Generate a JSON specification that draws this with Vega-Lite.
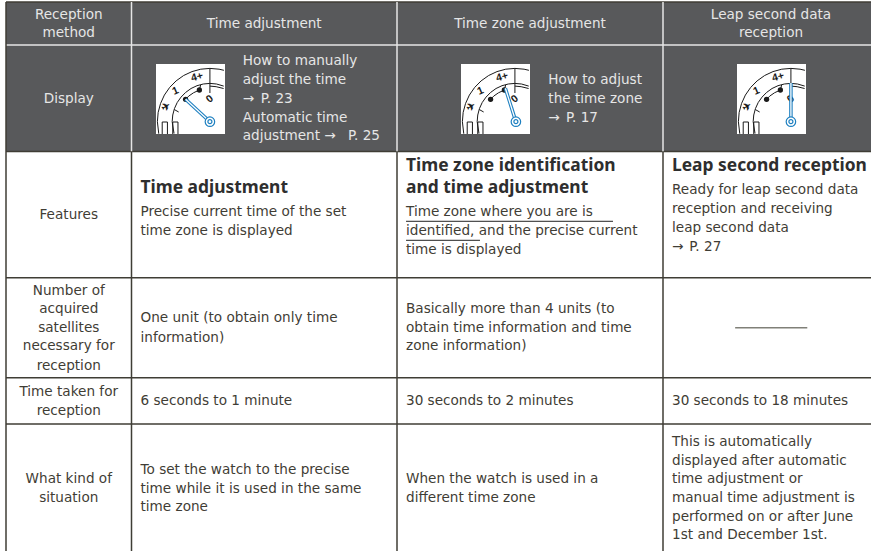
{
"$schema":"https://vega.github.io/schema/vega-lite/v6.json",
"width":871,"height":551,"padding":0,"autosize":{"type":"none"},"background":"white",
"config":{"view":{"stroke":null}},
"resolve":{"scale":{"x":"independent","y":"independent"}},
"datasets":{
"cells":[{"c":0,"c2":4,"r":0.106,"r2":8.059}],
"hr":[{"r":2.394,"c":0,"c2":4,"k":"light"},{"r":0.106,"c":0,"c2":4,"k":"dark"},{"r":8.059,"c":0,"c2":4,"k":"dark"},{"r":14.771,"c":0,"c2":4,"k":"dark"},{"r":20.09,"c":0,"c2":4,"k":"dark"},{"r":22.553,"c":0,"c2":4,"k":"dark"}],
"vr":[{"c":1,"r":0.106,"r2":8.059,"k":"light"},{"c":2,"r":0.106,"r2":8.059,"k":"light"},{"c":3,"r":0.106,"r2":8.059,"k":"light"},{"c":0,"r":0.106,"r2":29.415,"k":"dark"},{"c":1,"r":8.059,"r2":29.415,"k":"dark"},{"c":2,"r":8.059,"r2":29.415,"k":"dark"},{"c":3,"r":8.059,"r2":29.415,"k":"dark"}],
"under":[{"r":11.771,"c":2.034,"c2":2.812},{"r":12.782,"c":2.034,"c2":2.312}],
"dash":[{"r":17.431,"c":3.334,"c2":3.668}],
"icons":[{"x":0,"x2":70,"y":0,"y2":70},{"x":100,"x2":170,"y":0,"y2":70},{"x":200,"x2":270,"y":0,"y2":70}],
"gauge":[
{"g":1,"p":"outer","x":68.9,"y":6.3},{"g":1,"p":"outer","x":64,"y":5.2},{"g":1,"p":"outer","x":54.7,"y":4.4},{"g":1,"p":"outer","x":45.4,"y":5.2},{"g":1,"p":"outer","x":36.5,"y":7.6},{"g":1,"p":"outer","x":28.05,"y":11.5},{"g":1,"p":"outer","x":20.4,"y":16.9},{"g":1,"p":"outer","x":13.9,"y":23.4},{"g":1,"p":"outer","x":8.5,"y":31.05},{"g":1,"p":"outer","x":4.6,"y":39.5},{"g":1,"p":"outer","x":2.2,"y":48.4},{"g":1,"p":"outer","x":1.4,"y":57.7},{"g":1,"p":"outer","x":2.8,"y":69.7},
{"g":1,"p":"inner","x":68.7,"y":22.1},{"g":1,"p":"inner","x":61.4,"y":20},{"g":1,"p":"inner","x":54.7,"y":19.4},{"g":1,"p":"inner","x":48,"y":20},{"g":1,"p":"inner","x":41.6,"y":21.7},{"g":1,"p":"inner","x":35.55,"y":24.5},{"g":1,"p":"inner","x":30.1,"y":28.4},{"g":1,"p":"inner","x":25.4,"y":33.1},{"g":1,"p":"inner","x":21.5,"y":38.55},{"g":1,"p":"inner","x":18.7,"y":44.6},{"g":1,"p":"inner","x":17,"y":51},{"g":1,"p":"inner","x":16.4,"y":57.7},{"g":1,"p":"inner","x":18.3,"y":69.5},
{"g":1,"p":"marker","x":43.8,"y":26.1},{"g":1,"p":"marker","x":38,"y":28.8},{"g":1,"p":"marker","x":33.2,"y":32.1},{"g":1,"p":"marker","x":29.9,"y":35.4},
{"g":1,"p":"tick","x":54.7,"y":4.4},{"g":1,"p":"tick","x":54.7,"y":29},
{"g":1,"p":"minor","x":18.5,"y":45.5},{"g":1,"p":"minor","x":23,"y":48},
{"g":1,"p":"dottick","x":44,"y":26},{"g":1,"p":"dottick","x":45.3,"y":21},
{"g":1,"p":"bar1","x":6.3,"y":70},{"g":1,"p":"bar1","x":6.3,"y":58},{"g":1,"p":"bar1","x":11.6,"y":58},{"g":1,"p":"bar1","x":11.6,"y":70},
{"g":1,"p":"bar2","x":17,"y":70},{"g":1,"p":"bar2","x":17,"y":58},{"g":1,"p":"bar2","x":22.3,"y":58},{"g":1,"p":"bar2","x":22.3,"y":70},
{"g":1,"p":"second","x":54.7,"y":22.1},{"g":1,"p":"second","x":61,"y":22.7},{"g":1,"p":"second","x":68.6,"y":24.5},
{"g":2,"p":"outer","x":168.9,"y":6.3},{"g":2,"p":"outer","x":164,"y":5.2},{"g":2,"p":"outer","x":154.7,"y":4.4},{"g":2,"p":"outer","x":145.4,"y":5.2},{"g":2,"p":"outer","x":136.5,"y":7.6},{"g":2,"p":"outer","x":128.05,"y":11.5},{"g":2,"p":"outer","x":120.4,"y":16.9},{"g":2,"p":"outer","x":113.9,"y":23.4},{"g":2,"p":"outer","x":108.5,"y":31.05},{"g":2,"p":"outer","x":104.6,"y":39.5},{"g":2,"p":"outer","x":102.2,"y":48.4},{"g":2,"p":"outer","x":101.4,"y":57.7},{"g":2,"p":"outer","x":102.8,"y":69.7},
{"g":2,"p":"inner","x":168.7,"y":22.1},{"g":2,"p":"inner","x":161.4,"y":20},{"g":2,"p":"inner","x":154.7,"y":19.4},{"g":2,"p":"inner","x":148,"y":20},{"g":2,"p":"inner","x":141.6,"y":21.7},{"g":2,"p":"inner","x":135.55,"y":24.5},{"g":2,"p":"inner","x":130.1,"y":28.4},{"g":2,"p":"inner","x":125.4,"y":33.1},{"g":2,"p":"inner","x":121.5,"y":38.55},{"g":2,"p":"inner","x":118.7,"y":44.6},{"g":2,"p":"inner","x":117,"y":51},{"g":2,"p":"inner","x":116.4,"y":57.7},{"g":2,"p":"inner","x":118.3,"y":69.5},
{"g":2,"p":"marker","x":143.8,"y":26.1},{"g":2,"p":"marker","x":138,"y":28.8},{"g":2,"p":"marker","x":133.2,"y":32.1},{"g":2,"p":"marker","x":129.9,"y":35.4},
{"g":2,"p":"tick","x":154.7,"y":4.4},{"g":2,"p":"tick","x":154.7,"y":29},
{"g":2,"p":"minor","x":118.5,"y":45.5},{"g":2,"p":"minor","x":123,"y":48},
{"g":2,"p":"dottick","x":144,"y":26},{"g":2,"p":"dottick","x":145.3,"y":21},
{"g":2,"p":"bar1","x":106.3,"y":70},{"g":2,"p":"bar1","x":106.3,"y":58},{"g":2,"p":"bar1","x":111.6,"y":58},{"g":2,"p":"bar1","x":111.6,"y":70},
{"g":2,"p":"bar2","x":117,"y":70},{"g":2,"p":"bar2","x":117,"y":58},{"g":2,"p":"bar2","x":122.3,"y":58},{"g":2,"p":"bar2","x":122.3,"y":70},
{"g":2,"p":"second","x":154.7,"y":22.1},{"g":2,"p":"second","x":161,"y":22.7},{"g":2,"p":"second","x":168.6,"y":24.5},
{"g":3,"p":"outer","x":268.9,"y":6.3},{"g":3,"p":"outer","x":264,"y":5.2},{"g":3,"p":"outer","x":254.7,"y":4.4},{"g":3,"p":"outer","x":245.4,"y":5.2},{"g":3,"p":"outer","x":236.5,"y":7.6},{"g":3,"p":"outer","x":228.05,"y":11.5},{"g":3,"p":"outer","x":220.4,"y":16.9},{"g":3,"p":"outer","x":213.9,"y":23.4},{"g":3,"p":"outer","x":208.5,"y":31.05},{"g":3,"p":"outer","x":204.6,"y":39.5},{"g":3,"p":"outer","x":202.2,"y":48.4},{"g":3,"p":"outer","x":201.4,"y":57.7},{"g":3,"p":"outer","x":202.8,"y":69.7},
{"g":3,"p":"inner","x":268.7,"y":22.1},{"g":3,"p":"inner","x":261.4,"y":20},{"g":3,"p":"inner","x":254.7,"y":19.4},{"g":3,"p":"inner","x":248,"y":20},{"g":3,"p":"inner","x":241.6,"y":21.7},{"g":3,"p":"inner","x":235.55,"y":24.5},{"g":3,"p":"inner","x":230.1,"y":28.4},{"g":3,"p":"inner","x":225.4,"y":33.1},{"g":3,"p":"inner","x":221.5,"y":38.55},{"g":3,"p":"inner","x":218.7,"y":44.6},{"g":3,"p":"inner","x":217,"y":51},{"g":3,"p":"inner","x":216.4,"y":57.7},{"g":3,"p":"inner","x":218.3,"y":69.5},
{"g":3,"p":"marker","x":243.8,"y":26.1},{"g":3,"p":"marker","x":238,"y":28.8},{"g":3,"p":"marker","x":233.2,"y":32.1},{"g":3,"p":"marker","x":229.9,"y":35.4},
{"g":3,"p":"tick","x":254.7,"y":4.4},{"g":3,"p":"tick","x":254.7,"y":29},
{"g":3,"p":"minor","x":218.5,"y":45.5},{"g":3,"p":"minor","x":223,"y":48},
{"g":3,"p":"dottick","x":244,"y":26},{"g":3,"p":"dottick","x":245.3,"y":21},
{"g":3,"p":"bar1","x":206.3,"y":70},{"g":3,"p":"bar1","x":206.3,"y":58},{"g":3,"p":"bar1","x":211.6,"y":58},{"g":3,"p":"bar1","x":211.6,"y":70},
{"g":3,"p":"bar2","x":217,"y":70},{"g":3,"p":"bar2","x":217,"y":58},{"g":3,"p":"bar2","x":222.3,"y":58},{"g":3,"p":"bar2","x":222.3,"y":70},
{"g":3,"p":"second","x":254.7,"y":22.1},{"g":3,"p":"second","x":261,"y":22.7},{"g":3,"p":"second","x":268.6,"y":24.5}
],
"dots":[{"x":44,"y":26},{"x":30,"y":35.3},{"x":144,"y":26},{"x":130,"y":35.3},{"x":244,"y":26},{"x":230,"y":35.3}],
"glabels":[{"t":"4+","x":41.7,"y":13},{"t":"1","x":19.7,"y":27},{"t":"✈","x":10.7,"y":43},{"t":"0","x":54.7,"y":35},{"t":"4+","x":141.7,"y":13},{"t":"1","x":119.7,"y":27},{"t":"✈","x":110.7,"y":43},{"t":"0","x":154.7,"y":35},{"t":"4+","x":241.7,"y":13},{"t":"1","x":219.7,"y":27},{"t":"✈","x":210.7,"y":43},{"t":"0","x":254.7,"y":35}],
"needles":[
{"n":"a","x":54.7,"y":57.7},{"n":"a","x":30,"y":35.3},
{"n":"b","x":155.7,"y":57.7},{"n":"b","x":145,"y":24.3},
{"n":"c","x":254.7,"y":57.7},{"n":"c","x":254.7,"y":19}
],
"pivots":[{"x":54.7,"y":57.7},{"x":155.7,"y":57.7},{"x":254.7,"y":57.7}],
"center":[
{"t":"Reception","c":0.5,"r":0.8,"k":"head"},{"t":"method","c":0.5,"r":1.755,"k":"head"},
{"t":"Time adjustment","c":1.5,"r":1.277,"k":"head"},
{"t":"Time zone adjustment","c":2.5,"r":1.277,"k":"head"},
{"t":"Leap second data","c":3.5,"r":0.8,"k":"head"},{"t":"reception","c":3.5,"r":1.755,"k":"head"},
{"t":"Display","c":0.5,"r":5.266,"k":"head"},
{"t":"Features","c":0.5,"r":11.436,"k":"body"},
{"t":"Number of","c":0.5,"r":15.463,"k":"body"},{"t":"acquired","c":0.5,"r":16.436,"k":"body"},{"t":"satellites","c":0.5,"r":17.431,"k":"body"},{"t":"necessary for","c":0.5,"r":18.404,"k":"body"},{"t":"reception","c":0.5,"r":19.452,"k":"body"},
{"t":"Time taken for","c":0.5,"r":20.835,"k":"body"},{"t":"reception","c":0.5,"r":21.862,"k":"body"},
{"t":"What kind of","c":0.5,"r":25.479,"k":"body"},{"t":"situation","c":0.5,"r":26.473,"k":"body"}
],
"left":[
{"t":"How to manually","c":1.385,"r":3.245,"k":"head"},{"t":"adjust the time","c":1.385,"r":4.255,"k":"head"},{"t":"→","c":1.385,"r":5.266,"k":"head"},{"t":"P. 23","c":1.4527,"r":5.266,"k":"linkDark"},{"t":"Automatic time","c":1.385,"r":6.277,"k":"head"},{"t":"adjustment →","c":1.385,"r":7.26,"k":"head"},{"t":"P. 25","c":1.7815,"r":7.26,"k":"linkDark"},
{"t":"How to adjust","c":2.535,"r":4.255,"k":"head"},{"t":"the time zone","c":2.535,"r":5.266,"k":"head"},{"t":"→","c":2.535,"r":6.277,"k":"head"},{"t":"P. 17","c":2.6015,"r":6.277,"k":"linkDark"},
{"t":"Precise current time of the set","c":1,"r":11.26,"k":"body"},{"t":"time zone is displayed","c":1,"r":12.287,"k":"body"},
{"t":"Time zone where you are is","c":2,"r":11.26,"k":"body"},{"t":"identified, and the precise current","c":2,"r":12.287,"k":"body"},{"t":"time is displayed","c":2,"r":13.298,"k":"body"},
{"t":"Ready for leap second data","c":3,"r":10.106,"k":"body"},{"t":"reception and receiving","c":3,"r":11.117,"k":"body"},{"t":"leap second data","c":3,"r":12.144,"k":"body"},{"t":"→","c":3,"r":13.122,"k":"body"},{"t":"P. 27","c":3.08,"r":13.122,"k":"linkLight"},
{"t":"One unit (to obtain only time","c":1,"r":16.931,"k":"body"},{"t":"information)","c":1,"r":17.979,"k":"body"},
{"t":"Basically more than 4 units (to","c":2,"r":16.436,"k":"body"},{"t":"obtain time information and time","c":2,"r":17.431,"k":"body"},{"t":"zone information)","c":2,"r":18.404,"k":"body"},
{"t":"6 seconds to 1 minute","c":1,"r":21.314,"k":"body"},{"t":"30 seconds to 2 minutes","c":2,"r":21.314,"k":"body"},{"t":"30 seconds to 18 minutes","c":3,"r":21.314,"k":"body"},
{"t":"To set the watch to the precise","c":1,"r":25,"k":"body"},{"t":"time while it is used in the same","c":1,"r":26.011,"k":"body"},{"t":"time zone","c":1,"r":26.968,"k":"body"},
{"t":"When the watch is used in a","c":2,"r":25.479,"k":"body"},{"t":"different time zone","c":2,"r":26.489,"k":"body"},
{"t":"This is automatically","c":3,"r":23.495,"k":"body"},{"t":"displayed after automatic","c":3,"r":24.505,"k":"body"},{"t":"time adjustment or","c":3,"r":25.479,"k":"body"},{"t":"manual time adjustment is","c":3,"r":26.489,"k":"body"},{"t":"performed on or after June","c":3,"r":27.5,"k":"body"},{"t":"1st and December 1st.","c":3,"r":28.457,"k":"body"}
],
"bold":[
{"t":"Time adjustment","c":1,"r":10.016},
{"t":"Time zone identification","c":2,"r":8.814},{"t":"and time adjustment","c":2,"r":9.984},
{"t":"Leap second reception","c":3,"r":8.814}
]
},
"layer":[
{"layer":[
{"data":{"name":"cells"},"mark":{"type":"rect","color":"#58595b"},"encoding":{
"x":{"field":"c","type":"quantitative","axis":null,"scale":{"type":"linear","zero":false,"nice":false,"domain":[0,1,2,3,4],"range":[6,131.5,397,663,879]}},"x2":{"field":"c2"},
"y":{"field":"r","type":"quantitative","axis":null,"scale":{"type":"linear","zero":false,"nice":false,"domain":[0,29.3085],"range":[0,551]}},"y2":{"field":"r2"}}},
{"data":{"name":"hr"},"mark":{"type":"rule","strokeWidth":1.5},"encoding":{"x":{"field":"c","type":"quantitative"},"x2":{"field":"c2"},"y":{"field":"r","type":"quantitative"},"color":{"field":"k","type":"nominal","legend":null,"scale":{"domain":["light","dark"],"range":["#e6e6e6","#3f3d35"]}}}},
{"data":{"name":"vr"},"mark":{"type":"rule","strokeWidth":1.5},"encoding":{"x":{"field":"c","type":"quantitative"},"y":{"field":"r","type":"quantitative"},"y2":{"field":"r2"},"color":{"field":"k","type":"nominal","legend":null}}},
{"data":{"name":"under"},"mark":{"type":"rule","strokeWidth":1,"color":"#222222"},"encoding":{"x":{"field":"c","type":"quantitative"},"x2":{"field":"c2"},"y":{"field":"r","type":"quantitative"}}},
{"data":{"name":"dash"},"mark":{"type":"rule","strokeWidth":1.5,"color":"#808078"},"encoding":{"x":{"field":"c","type":"quantitative"},"x2":{"field":"c2"},"y":{"field":"r","type":"quantitative"}}},
{"data":{"name":"center"},"mark":{"type":"text","font":"DejaVu Sans","fontSize":13.6,"align":"center","baseline":"middle"},"encoding":{"x":{"field":"c","type":"quantitative"},"y":{"field":"r","type":"quantitative"},"text":{"field":"t"},"color":{"field":"k","type":"nominal","legend":null,"scale":{"domain":["head","body","linkDark","linkLight"],"range":["#e8e8e8","#3c3c3c","#2a8fca","#1a7fc4"]}}}},
{"data":{"name":"left"},"mark":{"type":"text","font":"DejaVu Sans","fontSize":13.6,"align":"left","baseline":"middle","dx":9},"encoding":{"x":{"field":"c","type":"quantitative"},"y":{"field":"r","type":"quantitative"},"text":{"field":"t"},"color":{"field":"k","type":"nominal","legend":null,"scale":{"domain":["head","body","linkDark","linkLight"],"range":["#e8e8e8","#3c3c3c","#2a8fca","#1a7fc4"]}}}},
{"data":{"name":"bold"},"mark":{"type":"text","font":"Noto Sans","fontSize":17.4,"fontWeight":"bold","color":"#2e2e2e","align":"left","baseline":"middle","dx":9},"encoding":{"x":{"field":"c","type":"quantitative"},"y":{"field":"r","type":"quantitative"},"text":{"field":"t"}}}
]},
{"layer":[
{"data":{"name":"icons"},"mark":{"type":"rect","color":"#ffffff"},"encoding":{
"x":{"field":"x","type":"quantitative","axis":null,"scale":{"type":"linear","zero":false,"nice":false,"domain":[0,70,100,170,200,270],"range":[156,225,461,530,737,806]}},"x2":{"field":"x2"},
"y":{"field":"y","type":"quantitative","axis":null,"scale":{"type":"linear","zero":false,"nice":false,"domain":[0,70],"range":[64,134]}},"y2":{"field":"y2"}}},
{"data":{"name":"gauge"},"mark":{"type":"line","color":"#1a1a1a","strokeWidth":1},"encoding":{"x":{"field":"x","type":"quantitative"},"y":{"field":"y","type":"quantitative"},"detail":[{"field":"g"},{"field":"p"}],"order":{"value":null}}},
{"data":{"name":"dots"},"mark":{"type":"circle","color":"#1a1a1a","opacity":1,"size":28},"encoding":{"x":{"field":"x","type":"quantitative"},"y":{"field":"y","type":"quantitative"}}},
{"data":{"name":"glabels"},"mark":{"type":"text","font":"Liberation Sans","fontWeight":"bold","fontSize":10.5,"color":"#1a1a1a","baseline":"middle"},"encoding":{"x":{"field":"x","type":"quantitative"},"y":{"field":"y","type":"quantitative"},"text":{"field":"t"},"angle":{"field":"t","type":"nominal","legend":null,"scale":{"domain":["4+","1","✈","0"],"range":[345,320,305,0]}}}},
{"data":{"name":"needles"},"mark":{"type":"line","color":"#1c7fc0","strokeWidth":3.5},"encoding":{"x":{"field":"x","type":"quantitative"},"y":{"field":"y","type":"quantitative"},"detail":{"field":"n"},"order":{"value":null}}},
{"data":{"name":"needles"},"mark":{"type":"line","color":"#ffffff","strokeWidth":1.3},"encoding":{"x":{"field":"x","type":"quantitative"},"y":{"field":"y","type":"quantitative"},"detail":{"field":"n"},"order":{"value":null}}},
{"data":{"name":"pivots"},"mark":{"type":"point","shape":"circle","filled":false,"fill":"#ffffff","fillOpacity":1,"stroke":"#1c7fc0","strokeWidth":1.2,"opacity":1,"size":90},"encoding":{"x":{"field":"x","type":"quantitative"},"y":{"field":"y","type":"quantitative"}}},
{"data":{"name":"pivots"},"mark":{"type":"point","shape":"circle","filled":false,"fill":"#ffffff","fillOpacity":1,"stroke":"#1c7fc0","strokeWidth":1.2,"opacity":1,"size":16},"encoding":{"x":{"field":"x","type":"quantitative"},"y":{"field":"y","type":"quantitative"}}}
]}
]
}
